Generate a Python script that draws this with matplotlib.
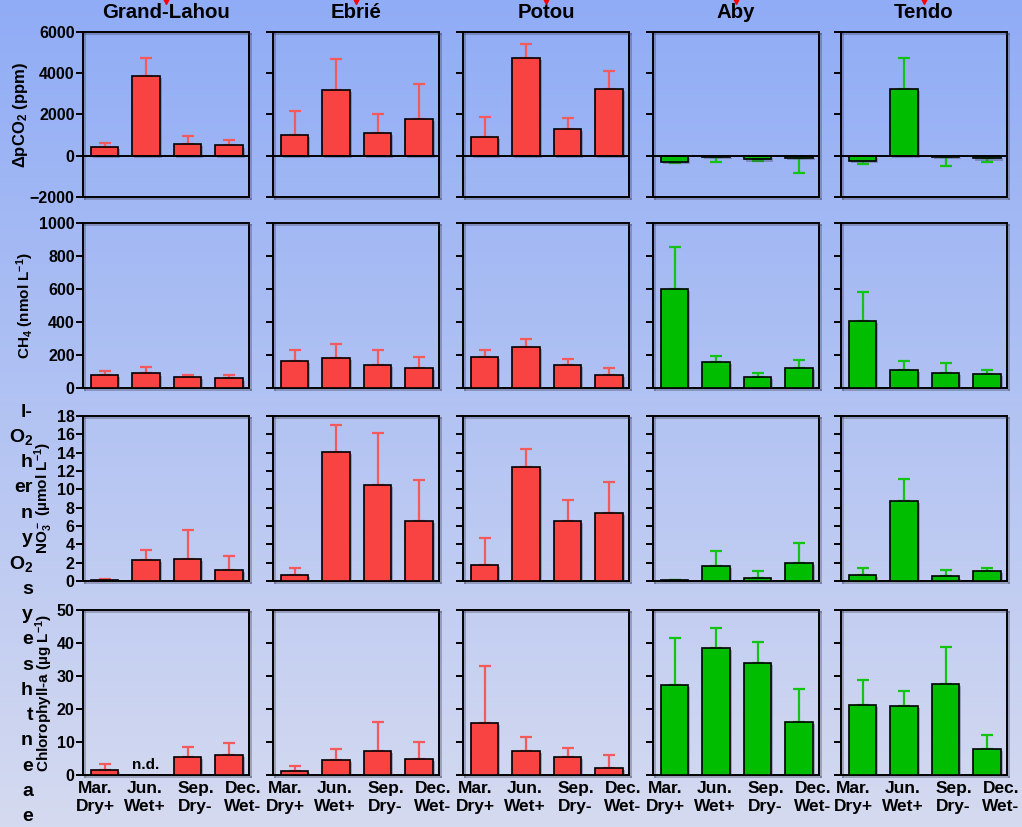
import numpy as np
import matplotlib
matplotlib.use('Agg')
import matplotlib.pyplot as plt
import matplotlib.patheffects as pe
from matplotlib.transforms import ScaledTranslation
from matplotlib.lines import Line2D

plt.rcParams['font.family'] = ['Liberation Sans', 'DejaVu Sans']
plt.rcParams['font.weight'] = 'bold'
plt.rcParams['mathtext.fontset'] = 'custom'
plt.rcParams['mathtext.rm'] = 'Liberation Sans:bold'
plt.rcParams['mathtext.default'] = 'rm'

# ---- datos: media y desvío (una fila por sitio, columnas = campañas) ----
sitios = ['Grand-Lahou', 'Ebrié', 'Potou', 'Aby', 'Tendo']
campanas = ['Mar.\nDry+', 'Jun.\nWet+', 'Sep.\nDry-', 'Dec.\nWet-']
grupo_rojo = [True, True, True, False, False]

pco2_media = [[430, 3880, 550, 500],
              [990, 3210, 1100, 1800],
              [890, 4760, 1320, 3260],
              [-320, -50, -180, -110],
              [-270, 3230, -80, -130]]
pco2_sd = [[200, 880, 420, 260],
           [1190, 1470, 920, 1680],
           [1000, 660, 520, 850],
           [40, 260, 60, 710],
           [110, 1530, 400, 160]]

ch4_media = [[80, 88, 66, 58],
             [164, 180, 140, 124],
             [188, 251, 142, 80],
             [601, 160, 68, 122],
             [409, 108, 90, 86]]
ch4_sd = [[24, 40, 12, 18],
          [65, 89, 89, 62],
          [41, 44, 32, 42],
          [253, 36, 20, 46],
          [174, 56, 60, 22]]

no3_media = [[0.1, 2.27, 2.38, 1.23],
             [0.61, 14.1, 10.46, 6.57],
             [1.8, 12.45, 6.57, 7.4],
             [0.07, 1.66, 0.29, 1.94],
             [0.68, 8.78, 0.50, 1.08]]
no3_sd = [[0.15, 1.16, 3.18, 1.48],
          [0.76, 2.9, 5.74, 4.43],
          [2.85, 1.91, 2.23, 3.4],
          [0.07, 1.62, 0.75, 2.2],
          [0.76, 2.34, 0.72, 0.36]]

chl_media = [[1.4, np.nan, 5.6, 6.2],
             [1.3, 4.6, 7.2, 5.0],
             [15.8, 7.4, 5.4, 2.2],
             [27.3, 38.4, 33.9, 16.0],
             [21.2, 20.9, 27.7, 7.9]]
chl_sd = [[1.8, np.nan, 2.8, 3.5],
          [1.5, 3.2, 9.0, 4.9],
          [17.1, 4.2, 2.8, 3.8],
          [14.3, 6.1, 6.5, 10.0],
          [7.6, 4.5, 11.2, 4.3]]

variables = [
    (pco2_media, pco2_sd, (-2000, 6000), [-2000, 0, 2000, 4000, 6000], 'ΔpCO$_2$ (ppm)'),
    (ch4_media, ch4_sd, (0, 1000), [0, 200, 400, 600, 800, 1000], 'CH$_4$ (nmol L$^{-1}$)'),
    (no3_media, no3_sd, (0, 18), list(range(0, 19, 2)), 'NO$_3^-$ (µmol L$^{-1}$)'),
    (chl_media, chl_sd, (0, 50), [0, 10, 20, 30, 40, 50], 'Chlorophyll-a (µg L$^{-1}$)'),
]

# ---- figura ----
W, H = 1022, 827
fig = plt.figure(figsize=(W / 100, H / 100), dpi=100)

# fondo degradado azul -> lavanda
fondo = fig.add_axes([0, 0, 1, 1], zorder=-10)
arriba = np.array([0.565, 0.675, 0.965])
abajo = np.array([0.835, 0.855, 0.94])
t = np.linspace(0, 1, 256)[:, None]
grad = arriba[None, :] * (1 - t) + abajo[None, :] * t
fondo.imshow(grad[:, None, :], aspect='auto', extent=[0, 1, 0, 1])
fondo.axis('off')

izq = [83, 273, 463, 653, 841]
sup = [32, 223, 416, 610]
PW, PH = 166, 165
ylab_x = [21, 25, 44, 44]
ylab_fs = [12, 11, 11, 11]
dx_etiq = [-9, -1, 8, 14]

sombra_barra = [pe.SimplePatchShadow(offset=(1.5, -1.5), shadow_rgbFace=(0.25, 0.25, 0.35), alpha=0.35), pe.Normal()]
sombra_linea = [pe.SimpleLineShadow(offset=(1.5, -1.5), shadow_color=(0.25, 0.25, 0.35), alpha=0.35), pe.Normal()]

x = np.arange(4)
for r, (medias, sds, ylim, yticks, ylabel) in enumerate(variables):
    for c in range(5):
        ax = fig.add_axes([izq[c] / W, 1 - (sup[r] + PH) / H, PW / W, PH / H])
        ax.patch.set_alpha(0)
        m = np.array(medias[c], dtype=float)
        s = np.array(sds[c], dtype=float)
        ok = ~np.isnan(m)
        relleno = '#f94242' if grupo_rojo[c] else '#00bd00'
        err_col = '#f55a5a' if grupo_rojo[c] else '#14c414'

        # barras de error sólo hacia afuera de la barra
        baja = np.where(m < 0, s, 0)
        alta = np.where(m >= 0, s, 0)
        ax.errorbar(x[ok], m[ok], yerr=[baja[ok], alta[ok]], fmt='none',
                    ecolor=err_col, elinewidth=1.6, capsize=4.5, capthick=1.6, zorder=2)
        barras = ax.bar(x[ok], m[ok], width=0.66, color=relleno,
                        edgecolor='black', linewidth=1.2, zorder=3)
        for b in barras:
            b.set_path_effects(sombra_barra)

        if ylim[0] < 0:
            ax.axhline(0, color='black', lw=1.4, zorder=4)

        if not ok.all():
            for i in np.where(~ok)[0]:
                ax.text(i, 0, 'n.d.', ha='center', va='bottom', fontsize=11,
                        transform=ax.transData + ScaledTranslation(0, 2 / 72, fig.dpi_scale_trans))

        ax.set_xlim(-0.52, 3.48)
        ax.set_ylim(*ylim)
        ax.set_yticks(yticks)
        ax.tick_params(axis='y', direction='out', length=5, width=1.4,
                       labelsize=11.5, pad=1, colors='black')
        if c > 0:
            ax.set_yticklabels([])
        ax.set_xticks([])
        for sp in ax.spines.values():
            sp.set_linewidth(1.4)
            sp.set_color('black')
            sp.set_path_effects(sombra_linea)

        if r == 0:
            fig.text((izq[c] + PW / 2) / W, 1 - 12 / H, sitios[c], ha='center',
                     va='center', fontsize=14.7)
            # marcas rojas recortadas sobre cada título
            fig.add_artist(Line2D([(izq[c] + PW / 2) / W], [1.0], transform=fig.transFigure,
                                  marker='v', ms=6, color='red', lw=0, clip_on=False))
        if r == 3:
            for i, lab in enumerate(campanas):
                ax.text(i, -0.035, lab, ha='center', va='top', fontsize=12.5, linespacing=1.3,
                        transform=ax.get_xaxis_transform()
                        + ScaledTranslation(dx_etiq[i] / 100, 0, fig.dpi_scale_trans))
        if c == 0:
            fig.text(ylab_x[r] / W, 1 - (sup[r] + PH / 2) / H, ylabel, rotation=90,
                     ha='center', va='center', fontsize=ylab_fs[r])

# texto cortado del margen izquierdo
fragmentos = ['l-', 'O$_2$', 'h', 'er', 'n', 'y', 'O$_2$', 's', 'y', 'e',
              's', 'h', 't', 'n', 'e', 'a', 'e']
for k, frag in enumerate(fragmentos):
    fig.text(33 / W, 1 - (412 + 25.3 * k) / H, frag, ha='right', va='center', fontsize=14)

plt.savefig('out.png', dpi=100)
plt.close()
